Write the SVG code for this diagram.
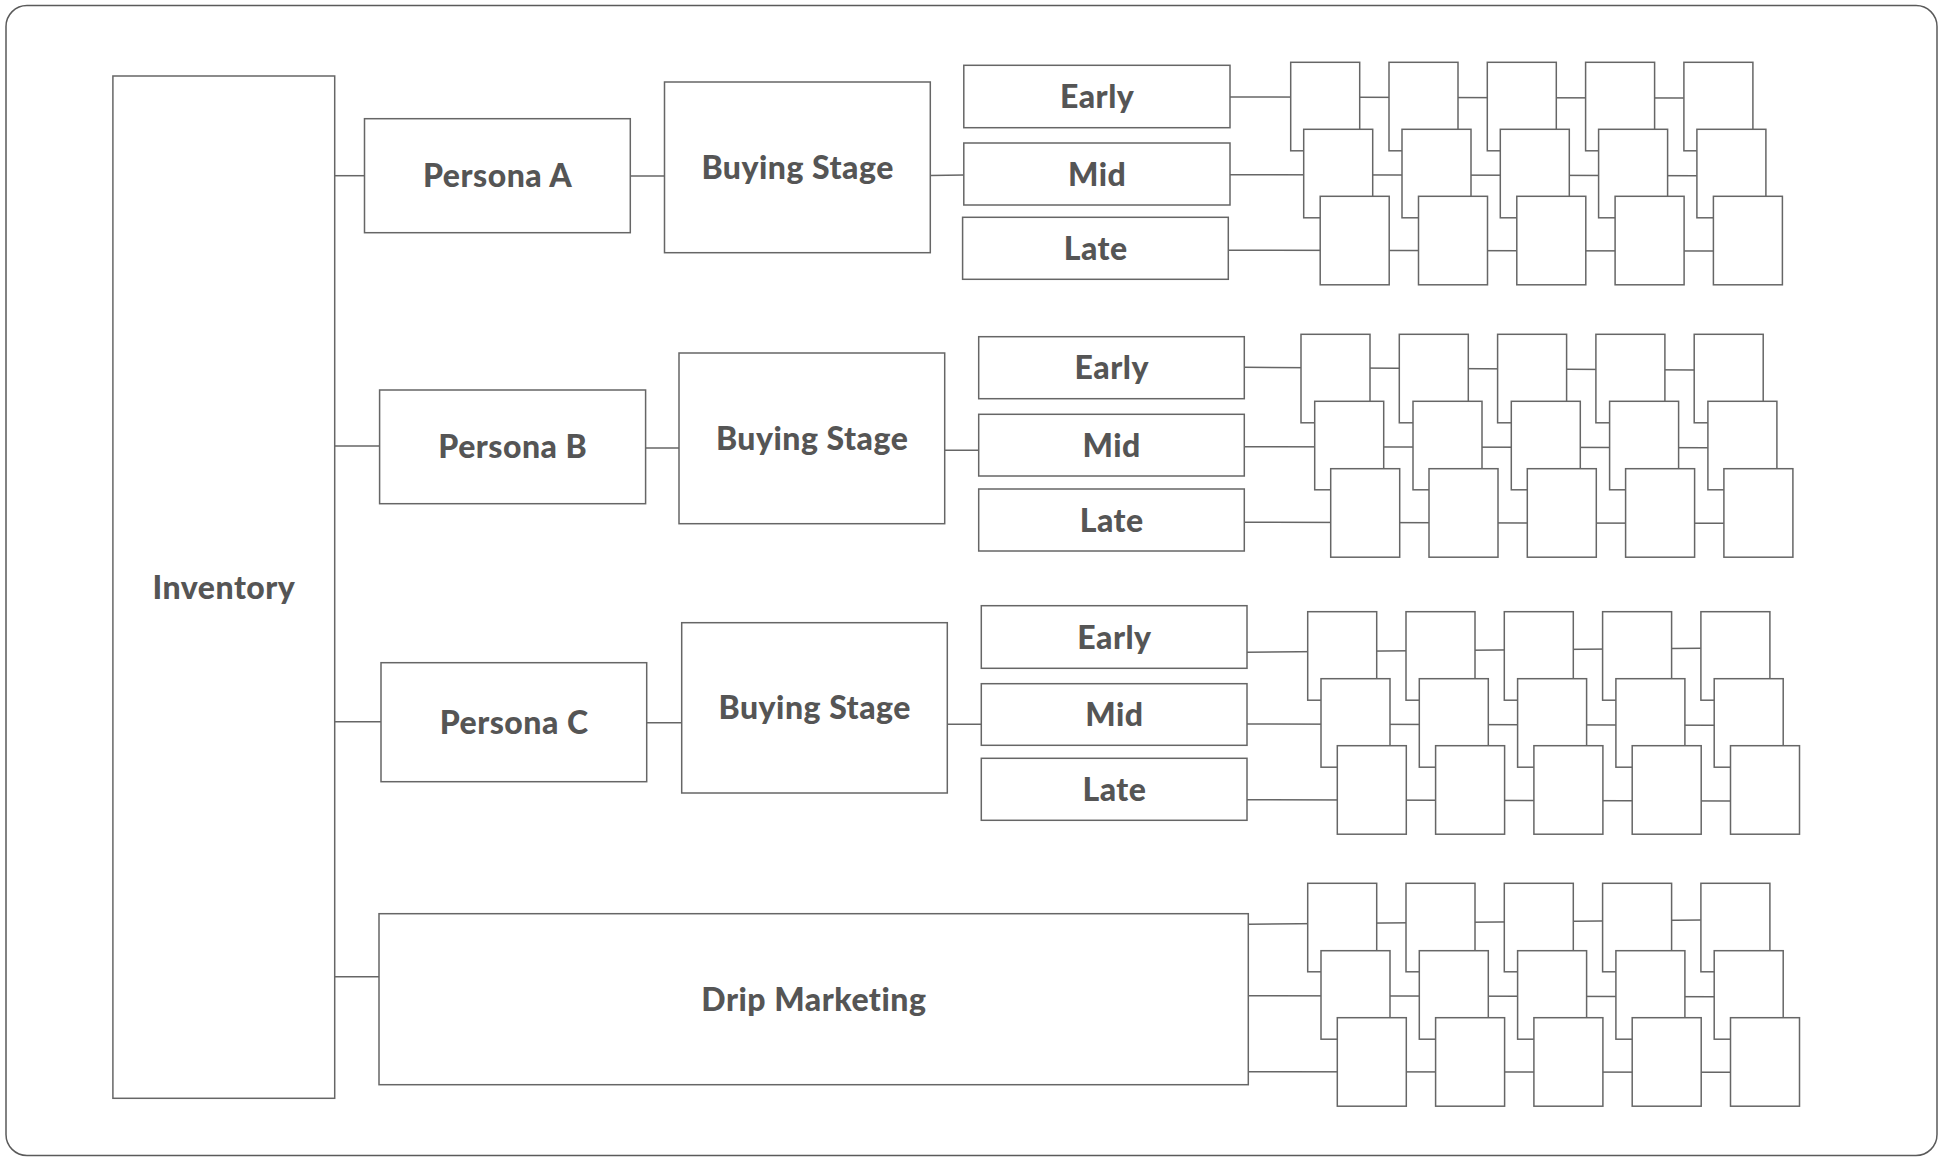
<svg xmlns="http://www.w3.org/2000/svg" xmlns:xlink="http://www.w3.org/1999/xlink" width="1944" height="1160" viewBox="0 0 1944 1160">
<style>
.frame{fill:#fff;stroke:#5a5a5a;stroke-width:1.5}
.box{fill:#fff;stroke:#666;stroke-width:1.5}
.pg{fill:#fff;stroke:#666;stroke-width:1.5}
.conn line{stroke:#666;stroke-width:1.5;fill:none}
.lbl{font-family:Lato,"Liberation Sans",sans-serif;font-weight:900;font-size:32px;letter-spacing:0.5px;fill:#555;text-anchor:middle}
</style>
<defs>
<rect id="page" class="pg" width="69" height="88.5"/>
</defs>
<rect class="frame" x="6" y="5.5" width="1931" height="1150" rx="21" ry="21"/>

<g id="connectors" class="conn">
<line x1="334.7" y1="175.7" x2="364.5" y2="175.7"/>
<line x1="630.3" y1="176" x2="664.5" y2="176"/>
<line x1="930.3" y1="175.5" x2="963.8" y2="175"/>
<line x1="334.7" y1="446" x2="379.6" y2="446"/>
<line x1="645.6" y1="448" x2="679" y2="448"/>
<line x1="944.7" y1="450.3" x2="978.7" y2="450.3"/>
<line x1="334.7" y1="721.7" x2="381" y2="721.7"/>
<line x1="646.7" y1="722.7" x2="681.7" y2="722.7"/>
<line x1="947.3" y1="724.3" x2="981.3" y2="724.3"/>
<line x1="334.7" y1="976.7" x2="379" y2="976.7"/>
<line x1="1230" y1="97" x2="1683.9" y2="98"/>
<line x1="1230" y1="174.7" x2="1696.9" y2="175.7"/>
<line x1="1228.3" y1="250.3" x2="1713.4" y2="251"/>
<line x1="1244.3" y1="367.3" x2="1694.2" y2="370"/>
<line x1="1244.3" y1="446.7" x2="1707.9" y2="447.7"/>
<line x1="1244.3" y1="522.3" x2="1723.9" y2="523.3"/>
<line x1="1247" y1="652.3" x2="1700.9" y2="648.3"/>
<line x1="1247" y1="724" x2="1714.2" y2="725.3"/>
<line x1="1247" y1="799.7" x2="1730.5" y2="801"/>
<line x1="1248.3" y1="924.3" x2="1700.9" y2="920"/>
<line x1="1248.3" y1="995.7" x2="1714.2" y2="996.7"/>
<line x1="1248.3" y1="1071.7" x2="1730.5" y2="1072.3"/>
</g>

<g id="inventory"><rect class="box" x="112.9" y="76" width="221.8" height="1022.3"/><text class="lbl" x="224" y="599">Inventory</text></g>

<g id="persona-a"><rect class="box" x="364.5" y="118.7" width="265.8" height="114"/><text class="lbl" x="497.6" y="187.3">Persona A</text></g>
<g id="stage-a"><rect class="box" x="664.5" y="82" width="265.8" height="170.7"/><text class="lbl" x="797.6" y="178.8">Buying Stage</text></g>
<g id="early-a"><rect class="box" x="963.8" y="65.3" width="266.2" height="62.4"/><text class="lbl" x="1097.1" y="108">Early</text></g>
<g id="mid-a"><rect class="box" x="963.8" y="143" width="266.2" height="62"/><text class="lbl" x="1097.1" y="185.5">Mid</text></g>
<g id="late-a"><rect class="box" x="962.6" y="217.3" width="265.7" height="62"/><text class="lbl" x="1095.7" y="259.8">Late</text></g>

<g id="persona-b"><rect class="box" x="379.6" y="390" width="266" height="113.7"/><text class="lbl" x="512.8" y="458.4">Persona B</text></g>
<g id="stage-b"><rect class="box" x="679" y="353" width="265.7" height="170.7"/><text class="lbl" x="812.1" y="449.8">Buying Stage</text></g>
<g id="early-b"><rect class="box" x="978.7" y="336.7" width="265.6" height="62"/><text class="lbl" x="1111.7" y="379.2">Early</text></g>
<g id="mid-b"><rect class="box" x="978.7" y="414.3" width="265.6" height="61.7"/><text class="lbl" x="1111.7" y="456.7">Mid</text></g>
<g id="late-b"><rect class="box" x="978.7" y="489" width="265.6" height="62"/><text class="lbl" x="1111.7" y="531.5">Late</text></g>

<g id="persona-c"><rect class="box" x="381" y="662.7" width="265.7" height="119"/><text class="lbl" x="514.1" y="733.7">Persona C</text></g>
<g id="stage-c"><rect class="box" x="681.7" y="622.7" width="265.6" height="170.3"/><text class="lbl" x="814.7" y="719.4">Buying Stage</text></g>
<g id="early-c"><rect class="box" x="981.3" y="605.7" width="265.7" height="62.6"/><text class="lbl" x="1114.4" y="648.5">Early</text></g>
<g id="mid-c"><rect class="box" x="981.3" y="683.7" width="265.7" height="61.6"/><text class="lbl" x="1114.4" y="726">Mid</text></g>
<g id="late-c"><rect class="box" x="981.3" y="758.3" width="265.7" height="62"/><text class="lbl" x="1114.4" y="800.8">Late</text></g>

<g id="drip"><rect class="box" x="379" y="913.7" width="869.3" height="171"/><text class="lbl" x="813.9" y="1010.7">Drip Marketing</text></g>

<g id="pages-a">
<g id="pa-1-1"><use xlink:href="#page" x="1290.7" y="62.3"/></g>
<g id="pa-1-2"><use xlink:href="#page" x="1389" y="62.3"/></g>
<g id="pa-1-3"><use xlink:href="#page" x="1487.3" y="62.3"/></g>
<g id="pa-1-4"><use xlink:href="#page" x="1585.6" y="62.3"/></g>
<g id="pa-1-5"><use xlink:href="#page" x="1683.9" y="62.3"/></g>
<g id="pa-2-1"><use xlink:href="#page" x="1303.7" y="129.3"/></g>
<g id="pa-2-2"><use xlink:href="#page" x="1402" y="129.3"/></g>
<g id="pa-2-3"><use xlink:href="#page" x="1500.3" y="129.3"/></g>
<g id="pa-2-4"><use xlink:href="#page" x="1598.6" y="129.3"/></g>
<g id="pa-2-5"><use xlink:href="#page" x="1696.9" y="129.3"/></g>
<g id="pa-3-1"><use xlink:href="#page" x="1320.2" y="196.3"/></g>
<g id="pa-3-2"><use xlink:href="#page" x="1418.5" y="196.3"/></g>
<g id="pa-3-3"><use xlink:href="#page" x="1516.8" y="196.3"/></g>
<g id="pa-3-4"><use xlink:href="#page" x="1615.1" y="196.3"/></g>
<g id="pa-3-5"><use xlink:href="#page" x="1713.4" y="196.3"/></g>
</g>

<g id="pages-b">
<g id="pb-1-1"><use xlink:href="#page" x="1301" y="334.3"/></g>
<g id="pb-1-2"><use xlink:href="#page" x="1399.3" y="334.3"/></g>
<g id="pb-1-3"><use xlink:href="#page" x="1497.6" y="334.3"/></g>
<g id="pb-1-4"><use xlink:href="#page" x="1595.9" y="334.3"/></g>
<g id="pb-1-5"><use xlink:href="#page" x="1694.2" y="334.3"/></g>
<g id="pb-2-1"><use xlink:href="#page" x="1314.7" y="401.3"/></g>
<g id="pb-2-2"><use xlink:href="#page" x="1413" y="401.3"/></g>
<g id="pb-2-3"><use xlink:href="#page" x="1511.3" y="401.3"/></g>
<g id="pb-2-4"><use xlink:href="#page" x="1609.6" y="401.3"/></g>
<g id="pb-2-5"><use xlink:href="#page" x="1707.9" y="401.3"/></g>
<g id="pb-3-1"><use xlink:href="#page" x="1330.7" y="468.7"/></g>
<g id="pb-3-2"><use xlink:href="#page" x="1429" y="468.7"/></g>
<g id="pb-3-3"><use xlink:href="#page" x="1527.3" y="468.7"/></g>
<g id="pb-3-4"><use xlink:href="#page" x="1625.6" y="468.7"/></g>
<g id="pb-3-5"><use xlink:href="#page" x="1723.9" y="468.7"/></g>
</g>

<g id="pages-c">
<g id="pc-1-1"><use xlink:href="#page" x="1307.7" y="611.7"/></g>
<g id="pc-1-2"><use xlink:href="#page" x="1406" y="611.7"/></g>
<g id="pc-1-3"><use xlink:href="#page" x="1504.3" y="611.7"/></g>
<g id="pc-1-4"><use xlink:href="#page" x="1602.6" y="611.7"/></g>
<g id="pc-1-5"><use xlink:href="#page" x="1700.9" y="611.7"/></g>
<g id="pc-2-1"><use xlink:href="#page" x="1321" y="678.7"/></g>
<g id="pc-2-2"><use xlink:href="#page" x="1419.3" y="678.7"/></g>
<g id="pc-2-3"><use xlink:href="#page" x="1517.6" y="678.7"/></g>
<g id="pc-2-4"><use xlink:href="#page" x="1615.9" y="678.7"/></g>
<g id="pc-2-5"><use xlink:href="#page" x="1714.2" y="678.7"/></g>
<g id="pc-3-1"><use xlink:href="#page" x="1337.3" y="745.7"/></g>
<g id="pc-3-2"><use xlink:href="#page" x="1435.6" y="745.7"/></g>
<g id="pc-3-3"><use xlink:href="#page" x="1533.9" y="745.7"/></g>
<g id="pc-3-4"><use xlink:href="#page" x="1632.2" y="745.7"/></g>
<g id="pc-3-5"><use xlink:href="#page" x="1730.5" y="745.7"/></g>
</g>

<g id="pages-d">
<g id="pd-1-1"><use xlink:href="#page" x="1307.7" y="883.3"/></g>
<g id="pd-1-2"><use xlink:href="#page" x="1406" y="883.3"/></g>
<g id="pd-1-3"><use xlink:href="#page" x="1504.3" y="883.3"/></g>
<g id="pd-1-4"><use xlink:href="#page" x="1602.6" y="883.3"/></g>
<g id="pd-1-5"><use xlink:href="#page" x="1700.9" y="883.3"/></g>
<g id="pd-2-1"><use xlink:href="#page" x="1321" y="950.7"/></g>
<g id="pd-2-2"><use xlink:href="#page" x="1419.3" y="950.7"/></g>
<g id="pd-2-3"><use xlink:href="#page" x="1517.6" y="950.7"/></g>
<g id="pd-2-4"><use xlink:href="#page" x="1615.9" y="950.7"/></g>
<g id="pd-2-5"><use xlink:href="#page" x="1714.2" y="950.7"/></g>
<g id="pd-3-1"><use xlink:href="#page" x="1337.3" y="1017.7"/></g>
<g id="pd-3-2"><use xlink:href="#page" x="1435.6" y="1017.7"/></g>
<g id="pd-3-3"><use xlink:href="#page" x="1533.9" y="1017.7"/></g>
<g id="pd-3-4"><use xlink:href="#page" x="1632.2" y="1017.7"/></g>
<g id="pd-3-5"><use xlink:href="#page" x="1730.5" y="1017.7"/></g>
</g>
</svg>
